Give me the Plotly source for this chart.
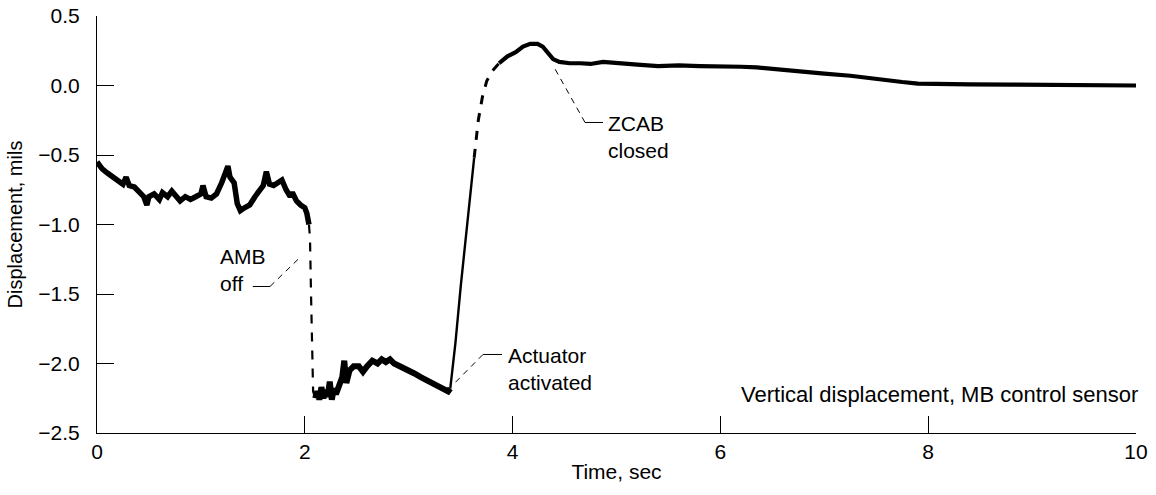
import plotly.graph_objects as go

# Vertical displacement of the MB control sensor (mils) against time (sec)
time_s = [
    0.00, 0.05, 0.10, 0.15, 0.20, 0.25, 0.28, 0.31, 0.36, 0.40, 0.45, 0.48, 0.50,
    0.55, 0.60, 0.63, 0.68, 0.72, 0.76, 0.80, 0.85, 0.90, 0.95, 1.00, 1.02, 1.05,
    1.10, 1.15, 1.20, 1.24, 1.26, 1.28, 1.32, 1.35, 1.38, 1.42, 1.47, 1.52, 1.56,
    1.60, 1.63, 1.66, 1.70, 1.74, 1.78, 1.82, 1.86, 1.88, 1.92, 1.96, 2.00, 2.02,
    2.04,
    2.05, 2.06, 2.07, 2.08,
    2.10, 2.12, 2.14, 2.16, 2.18, 2.20, 2.22, 2.24, 2.26, 2.28, 2.30, 2.33, 2.36,
    2.38, 2.40, 2.43, 2.47, 2.52, 2.56, 2.60, 2.65, 2.70, 2.74, 2.78, 2.82, 2.86,
    2.92, 2.98, 3.05, 3.12, 3.20, 3.28, 3.35, 3.38, 3.40,
    3.45, 3.50, 3.55, 3.60, 3.63, 3.67, 3.71, 3.75, 3.80,
    3.87, 3.95, 4.03, 4.10, 4.17, 4.24, 4.29, 4.34, 4.39, 4.45, 4.55, 4.65, 4.75,
    4.87, 5.00, 5.20, 5.40, 5.60, 5.80, 6.00, 6.20, 6.35, 6.55, 6.77, 7.00, 7.25,
    7.40, 7.57, 7.75, 7.90, 8.10, 8.40, 8.80, 9.20, 9.60, 10.00,
]
displacement_mils = [
    -0.55, -0.60, -0.63, -0.66, -0.69, -0.71, -0.66, -0.72, -0.73, -0.76, -0.80, -0.86, -0.80,
    -0.78, -0.82, -0.77, -0.80, -0.76, -0.80, -0.83, -0.80, -0.82, -0.80, -0.78, -0.72, -0.80,
    -0.81, -0.78, -0.70, -0.62, -0.58, -0.66, -0.70, -0.85, -0.90, -0.88, -0.86, -0.80, -0.76,
    -0.72, -0.62, -0.71, -0.72, -0.70, -0.68, -0.75, -0.80, -0.77, -0.83, -0.86, -0.88, -0.92,
    -1.00,
    -1.10, -1.50, -2.00, -2.20,
    -2.25, -2.20, -2.26, -2.17, -2.25, -2.19, -2.24, -2.13, -2.26, -2.18, -2.22, -2.15, -2.10,
    -1.98, -2.14, -2.05, -2.02, -2.02, -2.06, -2.02, -1.98, -2.00, -1.97, -1.99, -1.97, -2.00,
    -2.02, -2.04, -2.07, -2.10, -2.13, -2.16, -2.19, -2.20, -2.18,
    -1.85, -1.45, -1.10, -0.75, -0.52, -0.25, -0.08, 0.03, 0.10,
    0.16, 0.21, 0.24, 0.28, 0.30, 0.30, 0.28, 0.23, 0.19, 0.17, 0.16, 0.16, 0.155,
    0.17, 0.16, 0.15, 0.14, 0.145, 0.14, 0.14, 0.135, 0.13, 0.115, 0.10, 0.085, 0.07,
    0.055, 0.043, 0.025, 0.014, 0.010, 0.008, 0.006, 0.004, 0.002, 0.000,
]

# Index ranges of the trace pieces: recorded plateaus (thick), fast transients (thin / dashed)
pieces = [
    (0, 53, "solid", 5.5),     # AMB on, 0 - 2.04 s
    (52, 58, "dash", 2.2),     # drop after AMB off
    (57, 92, "solid", 6.0),    # rotor resting low, 2.10 - 3.40 s
    (91, 97, "solid", 2.4),    # actuator lift
    (96, 102, "dash", 3.0),    # approach to the peak
    (101, len(time_s), "solid", 4.2),  # ZCAB closed and settling
]

x_ticks = [0, 2, 4, 6, 8, 10]
y_ticks = [0.5, 0.0, -0.5, -1.0, -1.5, -2.0, -2.5]
y_tick_text = ["0.5", "0.0", "\u22120.5", "\u22121.0", "\u22121.5", "\u22122.0", "\u22122.5"]

FONT = "Liberation Sans, Arial, Helvetica, sans-serif"

fig = go.Figure()
for start, stop, dash, width in pieces:
    fig.add_trace(go.Scatter(
        x=time_s[start:stop], y=displacement_mils[start:stop],
        mode="lines", line=dict(color="black", width=width, dash=dash),
        showlegend=False, hoverinfo="skip",
    ))

# Event labels with their leader lines
events = [
    dict(text="AMB<br>off", x=1.165, y=-1.33, hook=[(1.50, -1.446), (1.665, -1.446)],
         lead=[(1.665, -1.446), (1.954, -1.237)]),
    dict(text="Actuator<br>activated", x=3.94, y=-2.04, hook=[(3.715, -1.935), (3.898, -1.935)],
         lead=[(3.715, -1.935), (3.43, -2.15)]),
    dict(text="ZCAB<br>closed", x=4.90, y=-0.37, hook=[(4.697, -0.266), (4.870, -0.266)],
         lead=[(4.697, -0.266), (4.40, 0.13)]),
]
for ev in events:
    fig.add_annotation(x=ev["x"], y=ev["y"], text=ev["text"], showarrow=False,
                       xanchor="left", yanchor="middle", align="left",
                       font=dict(family=FONT, size=21, color="black"))
    (a, b), (c, d) = ev["hook"]
    fig.add_shape(type="line", x0=a, y0=b, x1=c, y1=d, line=dict(color="black", width=1))
    (a, b), (c, d) = ev["lead"]
    fig.add_shape(type="line", x0=a, y0=b, x1=c, y1=d,
                  line=dict(color="black", width=1, dash="6px,5px"))

fig.add_annotation(xref="paper", yref="y", x=1.004, y=-2.22,
                   text="Vertical displacement, MB control sensor",
                   showarrow=False, xanchor="right", yanchor="middle",
                   font=dict(family=FONT, size=22, color="black"))

fig.update_layout(
    width=1156, height=495,
    margin=dict(l=97, r=20, t=16, b=62),
    paper_bgcolor="white", plot_bgcolor="white",
    font=dict(family=FONT, size=21, color="black"),
)
fig.update_xaxes(
    range=[0, 10], tickvals=x_ticks, ticktext=[str(v) for v in x_ticks],
    showgrid=False, zeroline=False, showline=True, linecolor="black", linewidth=1,
    ticks="inside", ticklen=17, tickcolor="black", tickwidth=1, automargin=False,
    tickfont=dict(size=21),
    title=dict(text="Time, sec", font=dict(size=21), standoff=2),
)
fig.update_yaxes(
    range=[-2.5, 0.5], tickvals=y_ticks, ticktext=y_tick_text,
    showgrid=False, zeroline=False, showline=True, linecolor="black", linewidth=1,
    ticks="inside", ticklen=17, tickcolor="black", tickwidth=1, ticklabelstandoff=12,
    automargin=False, tickfont=dict(size=21),
    title=dict(text="Displacement, mils", font=dict(size=20), standoff=10),
)

fig.write_html("out.html")
